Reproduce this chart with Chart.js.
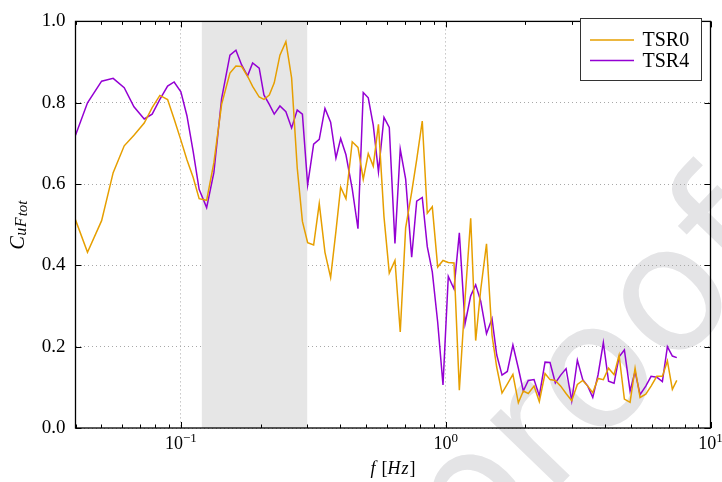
<!DOCTYPE html>
<html>
<head>
<meta charset="utf-8">
<script src="https://cdn.jsdelivr.net/npm/chart.js@4.4.1/dist/chart.umd.min.js"></script>
<style>
  body { margin: 0; background: #fff; }
  canvas { display: block; }
</style>
</head>
<body>
<canvas id="spectrum" width="722" height="482"></canvas>
<script>
// frequency [Hz]
const freqs = [
    0.0400, 0.0444, 0.0502, 0.0555, 0.0611, 0.0665, 0.0727, 0.0779, 0.0833, 0.0891,
    0.0943, 0.1000, 0.1054, 0.1113, 0.1172, 0.1251, 0.1332, 0.1425, 0.1532, 0.1614,
    0.1696, 0.1786, 0.1866, 0.1976, 0.2059, 0.2157, 0.2252, 0.2366, 0.2492, 0.2619,
    0.2750, 0.2877, 0.3011, 0.3172, 0.3331, 0.3500, 0.3677, 0.3851, 0.4012, 0.4201,
    0.4437, 0.4664, 0.4883, 0.5100, 0.5327, 0.5573, 0.5847, 0.6123, 0.6433, 0.6736,
    0.7060, 0.7440, 0.7772, 0.8157, 0.8521, 0.8901, 0.9328, 0.9768, 1.023, 1.075,
    1.126, 1.183, 1.243, 1.298, 1.356, 1.426, 1.496, 1.558, 1.632, 1.709,
    1.794, 1.881, 1.964, 2.051, 2.156, 2.257, 2.372, 2.477, 2.595, 2.719,
    2.848, 2.992, 3.142, 3.293, 3.439, 3.593, 3.762, 3.939, 4.121, 4.323,
    4.516, 4.729, 4.969, 5.190, 5.420, 5.696, 5.965, 6.268, 6.581, 6.874,
    7.178, 7.459
];

const tsr0 = [
    0.512, 0.432, 0.510, 0.628, 0.694, 0.720, 0.750, 0.788, 0.818, 0.808,
    0.760, 0.708, 0.660, 0.616, 0.564, 0.560, 0.652, 0.796, 0.873, 0.890,
    0.889, 0.865, 0.840, 0.814, 0.808, 0.819, 0.849, 0.917, 0.950, 0.861,
    0.640, 0.508, 0.456, 0.450, 0.552, 0.432, 0.370, 0.484, 0.592, 0.564,
    0.704, 0.690, 0.612, 0.675, 0.644, 0.747, 0.520, 0.381, 0.412, 0.236,
    0.492, 0.580, 0.660, 0.755, 0.528, 0.544, 0.396, 0.412, 0.407, 0.406,
    0.093, 0.316, 0.516, 0.215, 0.340, 0.453, 0.228, 0.150, 0.086, 0.108,
    0.132, 0.062, 0.091, 0.085, 0.103, 0.065, 0.134, 0.119, 0.117, 0.103,
    0.085, 0.067, 0.107, 0.117, 0.103, 0.087, 0.122, 0.119, 0.147, 0.131,
    0.179, 0.071, 0.063, 0.147, 0.075, 0.083, 0.103, 0.127, 0.127, 0.165,
    0.095, 0.117
];

const tsr4 = [
    0.720, 0.800, 0.853, 0.860, 0.837, 0.790, 0.760, 0.772, 0.808, 0.841,
    0.851, 0.827, 0.768, 0.680, 0.587, 0.542, 0.628, 0.810, 0.917, 0.929,
    0.893, 0.866, 0.898, 0.885, 0.819, 0.796, 0.772, 0.792, 0.778, 0.738,
    0.782, 0.772, 0.598, 0.698, 0.710, 0.786, 0.752, 0.664, 0.712, 0.672,
    0.588, 0.490, 0.825, 0.812, 0.745, 0.630, 0.764, 0.739, 0.454, 0.686,
    0.612, 0.420, 0.558, 0.567, 0.446, 0.384, 0.260, 0.106, 0.373, 0.342,
    0.480, 0.256, 0.325, 0.352, 0.312, 0.232, 0.269, 0.180, 0.130, 0.139,
    0.204, 0.147, 0.091, 0.117, 0.119, 0.079, 0.162, 0.161, 0.111, 0.130,
    0.146, 0.067, 0.167, 0.119, 0.103, 0.075, 0.131, 0.210, 0.115, 0.110,
    0.175, 0.192, 0.091, 0.139, 0.082, 0.103, 0.127, 0.125, 0.114, 0.200,
    0.177, 0.173
];

const seriesNames = ['TSR0', 'TSR4'];
const seriesColors = ['#e69f00', '#9400d3'];

// axis ticks
const xDecades = [0.01, 0.1, 1, 10];
const xMajorTicks = [0.1, 1, 10];
const xExponents = ['\u22121', '0', '1'];
const yStep = 0.2;

// shaded band [Hz]
const bandRange = [0.12, 0.3];

const serif = '"Liberation Serif", "DejaVu Serif", serif';
const gridColor = '#a8a8a8';

function isDecade(v) {
    const l = Math.log10(v);
    return Math.abs(l - Math.round(l)) < 1e-9;
}

function points(ys) {
    return ys.map((y, i) => ({ x: freqs[i], y: y }));
}

function drawSupLabel(ctx, base, exp, cx, baseline) {
    ctx.font = '18px ' + serif;
    const wb = ctx.measureText(base).width;
    ctx.font = '13px ' + serif;
    const we = ctx.measureText(exp).width;
    let x = cx - (wb + we) / 2;
    ctx.font = '18px ' + serif;
    ctx.fillText(base, x, baseline);
    ctx.font = '13px ' + serif;
    ctx.fillText(exp, x + wb, baseline - 7);
}

function drawParts(ctx, parts, cx, baseline) {
    let total = 0;
    parts.forEach(p => {
        ctx.font = p.font;
        p.w = ctx.measureText(p.t).width;
        total += p.w + (p.gap || 0);
    });
    let x = cx - total / 2;
    parts.forEach(p => {
        ctx.font = p.font;
        ctx.fillText(p.t, x, baseline + (p.dy || 0));
        x += p.w + (p.gap || 0);
    });
}

const decorations = {
    id: 'decorations',
    beforeDraw(chart) {
        const ctx = chart.ctx;
        ctx.save();
        ctx.fillStyle = '#fff';
        ctx.fillRect(0, 0, chart.width, chart.height);
        // watermark
        ctx.translate(596, 383);
        ctx.rotate(-46 * Math.PI / 180);
        ctx.font = '175px "DejaVu Sans", sans-serif';
        ctx.fillStyle = '#e4e4e6';
        ctx.textAlign = 'center';
        ctx.textBaseline = 'middle';
        ctx.fillText('proof', 0, 0);
        ctx.restore();
    },
    beforeDatasetsDraw(chart) {
        const { ctx, chartArea, scales } = chart;
        const x0 = scales.x.getPixelForValue(bandRange[0]);
        const x1 = scales.x.getPixelForValue(bandRange[1]);
        ctx.save();
        ctx.fillStyle = '#e6e6e6';
        ctx.fillRect(x0, chartArea.top, x1 - x0, chartArea.bottom - chartArea.top);
        ctx.restore();
    },
    afterDatasetsDraw(chart) {
        const { ctx, chartArea, scales } = chart;
        const { left, right, top, bottom } = chartArea;
        ctx.save();

        // ticks pointing inward
        ctx.strokeStyle = '#000';
        ctx.lineWidth = 1;
        ctx.beginPath();
        scales.x.ticks.forEach(t => {
            const px = Math.round(scales.x.getPixelForValue(t.value)) + 0.5;
            const len = isDecade(t.value) ? 6 : 3.5;
            ctx.moveTo(px, bottom); ctx.lineTo(px, bottom - len);
            ctx.moveTo(px, top); ctx.lineTo(px, top + len);
        });
        scales.y.ticks.forEach(t => {
            const py = Math.round(scales.y.getPixelForValue(t.value)) + 0.5;
            ctx.moveTo(left, py); ctx.lineTo(left + 6, py);
            ctx.moveTo(right, py); ctx.lineTo(right - 6, py);
        });
        ctx.stroke();

        // frame
        ctx.lineWidth = 1.3;
        ctx.strokeRect(left, top, right - left, bottom - top);

        // x tick labels 10^n
        ctx.fillStyle = '#000';
        ctx.textAlign = 'left';
        ctx.textBaseline = 'alphabetic';
        xMajorTicks.forEach((v, i) => {
            drawSupLabel(ctx, '10', xExponents[i], scales.x.getPixelForValue(v), 449);
        });

        // x title
        const it = 'italic 18px ' + serif;
        const up = '18px ' + serif;
        drawParts(ctx, [
            { t: 'f', font: it, gap: 6 },
            { t: '[', font: up },
            { t: 'H', font: it, gap: 1 },
            { t: 'z', font: it, gap: 1 },
            { t: ']', font: up }
        ], (left + right) / 2, 474);

        // y title, rotated
        ctx.save();
        ctx.translate(24, 225);
        ctx.rotate(-Math.PI / 2);
        drawParts(ctx, [
            { t: 'C', font: 'italic 20px ' + serif, gap: 0.5 },
            { t: 'u', font: 'italic 16px ' + serif, dy: 2, gap: 0.5 },
            { t: 'F', font: 'italic 16px ' + serif, dy: 2, gap: 1 },
            { t: 'tot', font: 'italic 15px ' + serif, dy: 3 }
        ], 0, 0);
        ctx.restore();

        // legend
        const lx = 580.5, ly = 18.5, lw = 121, lh = 62;
        ctx.fillStyle = '#fff';
        ctx.fillRect(lx, ly, lw, lh);
        ctx.strokeStyle = '#333';
        ctx.lineWidth = 1;
        ctx.strokeRect(lx, ly, lw, lh);
        ctx.textBaseline = 'middle';
        ctx.font = '20px ' + serif;
        chart.data.datasets.forEach((ds, i) => {
            const yy = ly + 21.5 + i * 20.5;
            ctx.strokeStyle = ds.borderColor;
            ctx.lineWidth = 1.4;
            ctx.beginPath();
            ctx.moveTo(lx + 9.5, yy);
            ctx.lineTo(lx + 53.5, yy);
            ctx.stroke();
            ctx.fillStyle = '#000';
            ctx.fillText(ds.label, lx + 62, yy + 1);
        });
        ctx.restore();
    }
};

const chart = new Chart(document.getElementById('spectrum'), {
    type: 'line',
    data: {
        datasets: [
            { label: seriesNames[0], data: points(tsr0), borderColor: seriesColors[0] },
            { label: seriesNames[1], data: points(tsr4), borderColor: seriesColors[1] }
        ]
    },
    options: {
        responsive: false,
        animation: false,
        devicePixelRatio: 1,
        layout: { padding: { left: 0, right: 11.5, top: 12, bottom: 0 } },
        elements: {
            line: { borderWidth: 1.5, tension: 0, fill: false },
            point: { radius: 0 }
        },
        plugins: {
            legend: { display: false },
            tooltip: { enabled: false }
        },
        scales: {
            x: {
                type: 'logarithmic',
                min: 0.04,
                max: 10,
                afterBuildTicks: scale => {
                    const ticks = [];
                    xDecades.forEach(d => {
                        for (let k = 1; k <= 9; k++) {
                            const v = +(k * d).toPrecision(3);
                            if (v >= 0.04 - 1e-9 && v <= 10 + 1e-9) ticks.push({ value: v });
                        }
                    });
                    scale.ticks = ticks.filter((t, i, a) => i === 0 || t.value !== a[i - 1].value);
                },
                afterFit: scale => { scale.height = 54; },
                ticks: { display: false },
                grid: {
                    drawTicks: false,
                    lineWidth: 1,
                    color: c => (c.tick && isDecade(c.tick.value)) ? gridColor : 'rgba(0,0,0,0)'
                },
                border: { display: false, dash: [1, 3] }
            },
            y: {
                min: 0,
                max: 1,
                afterFit: scale => { scale.width = 75.5; },
                ticks: {
                    stepSize: yStep,
                    callback: v => v.toFixed(1),
                    color: '#000',
                    padding: 10,
                    font: { family: serif, size: 19 }
                },
                grid: { drawTicks: false, lineWidth: 1, color: gridColor },
                border: { display: false, dash: [1, 3] }
            }
        }
    },
    plugins: [decorations]
});
</script>
</body>
</html>
